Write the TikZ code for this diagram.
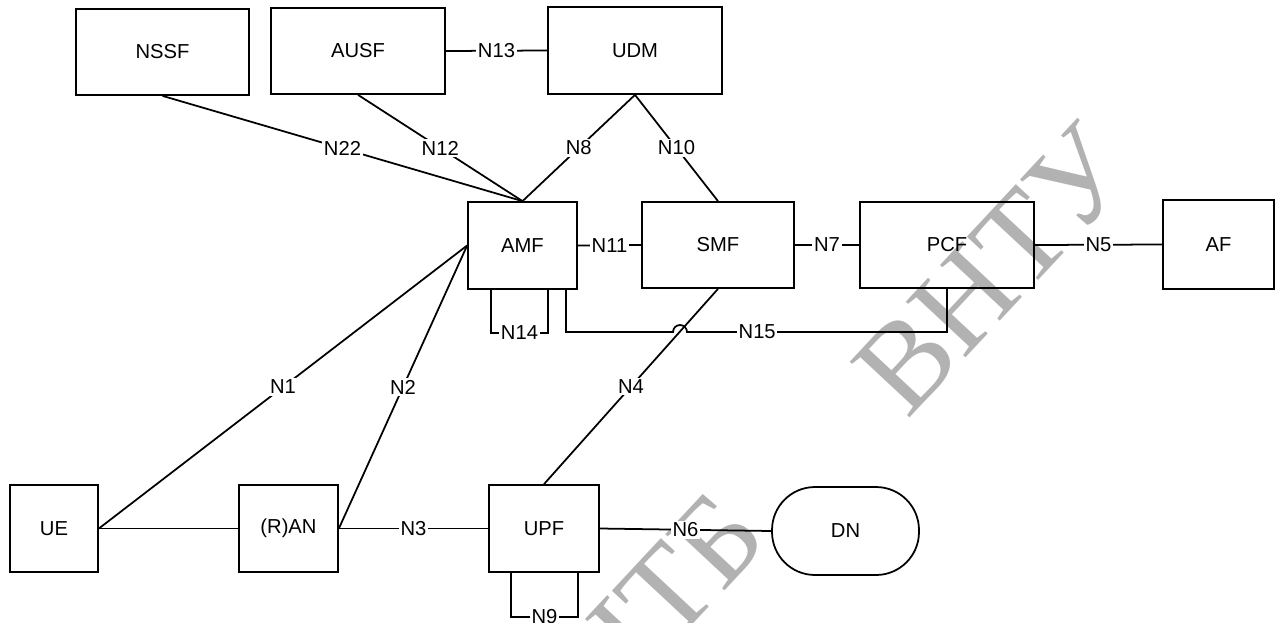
\documentclass[tikz,border=0pt]{standalone}
\usepackage{fontspec}
\setmainfont{Liberation Sans}
\newfontfamily\wmfont{Liberation Serif}
\begin{document}
\begin{tikzpicture}[x=0.02cm,y=-0.02cm,
  every node/.style={font=\fontsize{11.5}{13}\selectfont},
  box/.style={draw=black,line width=1pt,inner sep=0pt},
  lab/.style={fill=white,inner sep=1pt},
  conn/.style={draw=black,line width=1pt},
  wm/.style={text=black!30,rotate=47,inner sep=0pt,font=\wmfont\fontsize{71}{71}\selectfont}]
\useasboundingbox (0,0) rectangle (1280,622);
% watermark
\node[wm] (wm1) at (993,270) {ВНТУ};
\node[wm] (wm2) at (660,600) {НТБ};
% boxes
\node[box,minimum width=3.46cm,minimum height=1.72cm] (nssf) at (162.5,52) {NSSF};
\node[box,minimum width=3.48cm,minimum height=1.72cm] (ausf) at (358,51) {AUSF};
\node[box,minimum width=3.48cm,minimum height=1.74cm] (udm) at (635,50.5) {UDM};
\node[box,minimum width=2.18cm,minimum height=1.74cm] (amf) at (522.5,245.5) {AMF};
\node[box,minimum width=3.04cm,minimum height=1.72cm] (smf) at (718,245) {SMF};
\node[box,minimum width=3.48cm,minimum height=1.72cm] (pcf) at (947,245) {PCF};
\node[box,minimum width=2.22cm,minimum height=1.78cm] (af) at (1218.5,244.5) {AF};
\node[box,minimum width=1.76cm,minimum height=1.74cm] (ue) at (54,528.5) {UE};
\node[box,minimum width=1.98cm,minimum height=1.74cm] (ran) at (288.5,528.5) {(R)AN};
\node[box,minimum width=2.2cm,minimum height=1.74cm] (upf) at (544,528.5) {UPF};
\node[box,rounded corners=0.86cm,minimum width=2.94cm,minimum height=1.76cm] (dn) at (845.5,531) {DN};
% connectors
\draw[conn] (ausf.east) -- node[lab]{N13} (udm.east -| udm.west);
\draw[conn] (nssf.south) -- node[lab]{N22} (amf.north);
\draw[conn] (ausf.south) -- node[lab]{N12} (amf.north);
\draw[conn] (udm.south) -- node[lab]{N8} (amf.north);
\draw[conn] (udm.south) -- node[lab]{N10} (smf.north);
\draw[conn] (amf.east) -- node[lab]{N11} (smf.west);
\draw[conn] (smf.east) -- node[lab]{N7} (pcf.west);
\draw[conn] (pcf.east) -- node[lab]{N5} (af.west);
\draw[conn] (ue.east) -- node[lab]{N1} (amf.west);
\draw[conn] (ran.east) -- node[lab]{N2} (amf.west);
\draw[conn] (ue.east) -- (ran.west);
\draw[conn] (ran.east) -- node[lab]{N3} (upf.west);
\draw[conn] (upf.east) -- node[lab]{N6} (dn.west);
\draw[conn] (smf.south) -- node[lab]{N4} (upf.north);
\draw[conn] ([xshift=0.48cm]amf.south west) -- ++(0,43) -| node[lab,pos=0.25]{N14} ([xshift=-0.6cm]amf.south east);
\draw[conn] ([xshift=0.46cm]upf.south west) -- ++(0,44) -| node[lab,pos=0.25]{N9} ([xshift=-0.44cm]upf.south east);
\coordinate (hop) at (673,332);
\draw[conn] ([xshift=-0.24cm]amf.south east) |- (hop) arc[start angle=180,end angle=0,radius=0.14cm] -| node[lab,pos=0.135]{N15} (pcf.south);
\end{tikzpicture}
\end{document}
